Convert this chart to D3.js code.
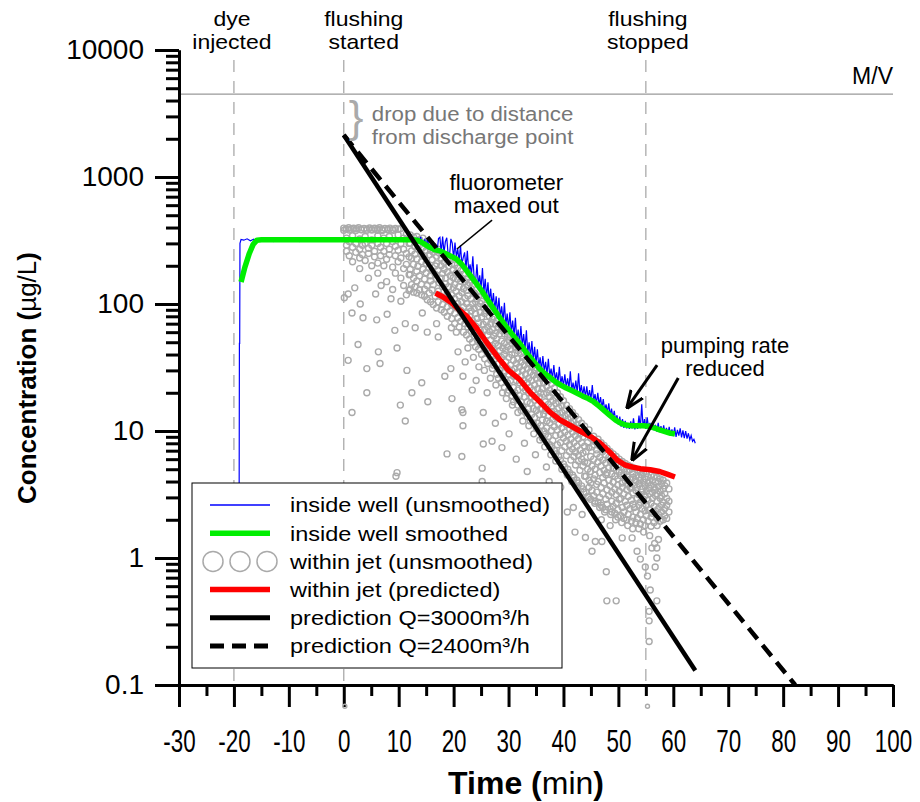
<!DOCTYPE html>
<html>
<head>
<meta charset="utf-8">
<script src="https://cdn.jsdelivr.net/npm/d3@7"></script>
<style>
body { margin: 0; background: #fff; }
text { font-family: "Liberation Sans", Arial, sans-serif; }
</style>
</head>
<body>
<div id="chart"></div>
<script>
// ---------------------------//
//       DATA                 //
// ---------------------------//

// axis ticks
var xTicks = [-30, -20, -10, 0, 10, 20, 30, 40, 50, 60, 70, 80, 90, 100];
var xMinorTicks = [-25, -15, -5, 5, 15, 25, 35, 45, 55, 65, 75, 85, 95];
var yTicks = [0.1, 1, 10, 100, 1000, 10000];
var yTickLabels = ["0.1", "1", "10", "100", "1000", "10000"];

// event markers (min)
var eventTimes = [-20, 0, 55];
var eventLabels = [["dye", "injected"], ["flushing", "started"], ["flushing", "stopped"]];
var massOverVolume = 4500;

// inside well, unsmoothed: injection step and plateau [time, conc]
var wellStart = [
  [-19.1,0.15],[-19.0,49],[-18.95,49],[-18.9,300],[-18.7,322],[-18.2,318],[-17.6,326],[-17.0,315],[-16.4,324],[-15.8,312],
  [-15.2,320],[-14.6,328],[-14.0,316],[-13.4,322],[-12.8,310],[-12.2,325],[-11.6,318],[-11.0,321],[-10.4,313],[-9.8,327],
  [-9.2,317],[-8.6,323],[-8.0,311],[-7.4,326],[-6.8,319],[-6.2,322],[-5.6,314],[-5.0,328],[-4.4,316],[-3.8,324],
  [-3.2,312],[-2.6,325],[-2.0,318],[-1.4,322],[-0.8,315],[-0.2,327],[0.4,317],[1.0,323],[1.6,313],[2.2,326],
  [2.8,318],[3.4,321],[4.0,314],[4.6,327],[5.2,317],[5.8,324],[6.4,312],[7.0,326],[7.6,319],[8.2,322],
  [8.8,315],[9.4,328],[10.0,316],[10.6,324],[11.2,318],[11.8,326]
];
// inside well, unsmoothed: decay, sampled every 0.25 min from t=12
var wellDecayStart = 12, wellDecayStep = 0.25;
var wellDecay = [
  318, 322, 330, 312, 326, 304, 333, 300,
  338, 296, 302, 320, 284, 331, 276, 290,
  268, 312, 266, 289, 262, 328, 335, 255,
  340, 252, 310, 332, 246, 238, 326, 301,
  228, 305, 236, 272, 214, 290, 205, 232,
  255, 190, 262, 181, 205, 170, 238, 156,
  150, 205, 142, 168, 133, 192, 122, 158,
  113, 148, 104, 132, 97, 122, 90, 115,
  84, 112, 79, 96, 73, 102, 68, 84,
  64, 86, 60, 74, 56, 78, 52, 63,
  49, 67, 47, 58, 44, 62, 41, 50,
  38, 51, 36, 46, 34, 44, 32, 38,
  30, 39, 29.5, 35, 28, 37, 27, 31,
  25.8, 33, 25, 29, 24, 32, 23.2, 27,
  22.6, 28, 22.2, 26, 21.6, 29.5, 21, 24,
  20.5, 25, 20, 28.5, 19.6, 23, 19, 22.5,
  18.5, 22.5, 18.1, 21, 17.8, 23, 17.2, 19.5,
  16.4, 20, 15.9, 18.5, 15.2, 17.8, 14.5, 16.2,
  13.9, 16.5, 13.2, 15, 12.7, 14.4, 12.1, 13.3,
  11.2, 13, 10.8, 12.4, 10.6, 12, 10.5, 11.6,
  10.4, 11.9, 10.5, 12.6, 10.3, 11.5, 10.4, 13.2,
  10.5, 16.2, 10.6, 12.4, 10.4, 12.8, 10.5, 11.6,
  10.3, 11.7, 10.1, 11.2, 9.9, 11.6, 9.8, 10.9,
  9.7, 11.1, 9.5, 10.6, 9.4, 10.8, 9.2, 10.3,
  9.1, 10.7, 9.0, 10.2, 9.2, 10.5, 8.9, 10.1,
  8.8, 10.0, 8.7, 9.6, 8.5, 9.2, 8.3, 8.6,
  8.0
];

// inside well, smoothed
var wellSmooth = [
  [-18.7,149],[-18.0,195],[-17.2,250],[-16.5,295],[-15.8,318],[-15.0,320],[12.5,320],[13.5,316],[14.5,300],[15.5,282],
  [16.5,268],[17.5,262],[18.5,250],[19.5,238],[20.5,226],[21.5,205],[22.5,180],[23.5,158],[24.5,138],[25.5,120],
  [26.5,103],[27.5,89],[28.5,77],[29.5,67],[30.5,59],[31.5,52],[32.5,46],[33.5,40],[34.5,35.5],[35.5,31.5],
  [36.5,28.5],[37.5,26.5],[38.5,24.5],[39.5,23],[40.5,21.8],[41.5,20.8],[42.5,19.8],[43.5,18.8],[44.5,18],[45.5,17],
  [46.5,15.7],[47.5,14.4],[48.5,13.2],[49.5,12.2],[50.5,11.5],[51.5,11.1],[52.5,11],[53.5,11],[54.5,11],[55.5,10.9],
  [56.5,10.6],[57.5,10.2],[58.5,9.9],[59.5,9.6],[60.3,9.5]
];

// within jet, predicted
var jetPredicted = [
  [16.7,122],[18,114],[19.4,104],[21,90],[22.4,80],[24,66],[26,50],[28.5,36],[30,30],[32,25.5],
  [34,20],[35.7,17],[37.6,14],[39.4,12.2],[41,11.2],[43,10],[45,9],[46.7,8],[48.3,6.9],[49.8,5.9],
  [51.2,5.4],[52.6,5.2],[54,5.05],[55.8,4.95],[57.5,4.8],[59,4.55],[60.3,4.34]
];

// predictions
var predQ3000 = [[0,2140],[64,0.13]];
var predQ2400 = [[0,2140],[82.2,0.1]];

// within jet, unsmoothed: fluorometer cap band and plateau scatter [time, conc...]
var jetEarly = [
  [0.0,396,380],[0.4,390],[0.5,330,290,260],[0.9,398],[1.0,310,240,382],[1.3,388],[1.6,345,280,215],[1.8,395],
  [2.2,300,255,379],[2.3,391],[2.7,399],[2.9,325,270,230,190],[3.2,386,384],[3.4,290,245],[3.7,394],[3.9,340,300,220],
  [4.2,389,380],[4.5,275,250,160],[4.7,397],[5.1,320,290,200,387,383],[5.6,260,235,395],[6.1,390,381],
  [6.2,345,300,210,175],[6.5,398],[6.7,280,240],[7.0,386,379],[7.3,330,260,200],[7.5,394],[7.8,300,225,150],
  [8.0,389,384],[8.3,340,270,245],[8.4,396],[8.9,310,195,130,387],[9.0,380],[9.4,285,240,175,393],[9.9,350,265,215,388],
  [10.3,392],[10.4,300,230,160,105],[10.9,330,270,190,140],[11.4,355,250,205,118],[11.9,300,235,170,128]
];
// within jet, unsmoothed: main decaying cloud [time, conc...]
var jetCloud = [
  [12.1,350,301,188,171,131],[12.35,262,229,142],[12.7,336,205,160,124],[12.95,313,284,247,136],
  [13.3,340,226,181,152,122],[13.5,270,198],[13.8,321,292,166,129],[14.15,247,215,143,118],
  [14.4,330,279,188],[14.7,303,238,157,131,115],[15.0,263,209,176],[15.2,310,286,140,108],
  [15.55,244,191,122],[15.8,297,265,167,152,104],[16.1,223,183,129],[16.3,285,255,142,99],
  [16.65,268,199,171,115],[16.9,238,208,158,93],[17.2,270,185,126,104],[17.4,252,147,118],
  [17.75,229,200,160,90],[18.0,248,174,137,99],[18.3,212,188,113,86],[18.55,240,160,144],
  [18.85,221,178,121,95,80],[19.1,199,137,106],[19.4,228,167,150,88],[19.65,207,118,99,77],
  [19.95,186,161,134],[20.2,203,143,110,84,70],[20.45,175,126,95],[20.75,192,157,101,78],
  [21.0,170,137,116,66],[21.3,183,151,89,73],[21.5,160,123,104],[21.8,172,132,95,80,60],
  [22.05,150,111,70],[22.35,156,128,101,85,57],[22.6,140,116,66],[22.9,147,94,80,53],
  [23.2,132,110,88,61],[23.45,140,100,74,50],[23.75,122,92,56],[24.0,118,104,84,67,46],
  [24.3,110,77,52],[24.55,114,95,71,44],[24.85,101,86,62,48],[25.1,105,79,57,40],
  [25.4,94,69,52],[25.65,98,84,63,45,37],[25.95,88,72,49],[26.2,91,66,57,41,34],
  [26.5,80,61,45],[26.75,86,70,52,36],[27.05,76,63,47,31],[27.3,79,56,42,33],
  [27.6,70,59,49,37],[27.85,74,53,39,28],[28.15,66,47,34,26],[28.4,69,58,43,30],
  [28.7,62,51,38,24],[28.95,64,45,33,27],[29.25,58,49,40,29,22],[29.5,61,43,35],
  [29.8,55,46,31,24,20],[30.05,52,38,28,21],[30.35,55,44,33,25],[30.6,49,40,30,19],
  [30.9,51,36,27,22,17],[31.15,46,41,31,20],[31.45,48,34,25,18],[31.7,43,37,29,21,16],
  [32.0,45,32,24,19],[32.3,41,35,27,17,14.5],[32.55,38,30,22,15.5],[32.85,42,33,25,18.5],
  [33.1,36,28,21,14],[33.4,39,31,24,17,13],[33.65,34,26,20,15],[33.95,36,29,22,16.5,12],
  [34.2,32,25,18.5,13.5],[34.5,34,27.5,21,15,11.5],[34.75,30,23,17.5,12.8],[35.05,31.5,26,19,14.5,10.6],
  [35.3,28,21.5,16,11.5],[35.6,29.5,24,18.5,13.5,10],[35.85,26,20,15,11],
  [36.15,27,21.5,15,12.2,8.8],[36.4,24,19.5,13.6,10],[36.7,26.5,17,14.5,9.4],[36.95,22.5,20,12,10.6,8.2],
  [37.25,25,16.2,13.2,9],[37.5,21,18.6,11.6,7.8],[37.8,23.5,15.5,14.2,10.1,7.4],[38.05,19.8,17.4,12.4,8.4],
  [38.35,21.8,14.2,10.8,7.0],[38.6,18.2,16.5,12.9,9.2,6.6],[38.9,20,13.6,10.2,7.8],[39.15,17,15.2,11.3,6.3],
  [39.45,18.6,12.8,9.4,8.1,5.9],[39.7,15.8,14,10.6,7.0],[40.0,17.3,11.8,8.8,5.5],[40.25,14.6,13.1,9.8,7.5,5.2],
  [40.55,16,11.2,8.3,6.4],[40.8,13.6,12.4,9.3,5.0],[41.1,15,10.4,7.8,6.9,4.7],[41.35,12.8,11.5,8.6,5.9],
  [41.65,14,9.8,7.2,4.5],[41.9,12,10.8,8.1,6.3,4.3],[42.2,13.1,9.2,6.8,5.4],[42.45,11.2,10.1,7.6,4.1],
  [42.75,12.3,8.7,6.4,5.8,3.9],[43.0,10.6,9.5,7.1,4.9],[43.3,11.5,8.1,6.0,3.7],[43.55,10,9,6.7,5.3,3.5],
  [43.85,10.9,7.6,5.7,4.4],
  [44.1,9.6,6.9,4.4,3.3],[44.4,8.1,5.6,5.0,3.05],[44.65,10.2,7.4,4.1,3.6],[44.95,8.8,6.3,4.8,3.9,2.9],
  [45.2,7.5,5.3,3.4],[45.5,9.1,7.8,6.0,4.2,3.1],[45.75,8.3,5.0,4.5,2.8],[46.05,7.1,6.6,3.8,3.3],
  [46.3,8.6,5.7,4.0,2.75],[46.6,7.6,6.2,4.7,3.0],[46.85,8.1,5.3,3.6,2.6],[47.15,6.9,5.9,4.3,3.2,2.5],
  [47.4,7.7,4.9,3.9],[47.7,6.5,5.6,4.55,2.9,2.4],[47.95,7.3,4.7,3.45,2.65],[48.25,6.2,5.15,4.1,3.1],
  [48.5,6.9,5.8,3.7,2.45],[48.8,5.6,4.6,3.3,2.8,2.3],[49.05,6.6,5.1,3.95,2.55],[49.35,5.9,4.4,3.5,2.25],
  [49.6,6.3,4.9,3.15,2.7],[49.9,5.4,4.2,3.75,2.4,2.1],[50.15,6.0,4.75,3.35,2.9],[50.45,5.2,4.45,2.95,2.15],
  [50.7,5.75,3.9,3.6,2.5],[51.0,5.0,4.6,3.2,2.3,2.05],[51.25,5.55,4.05,2.8],[51.55,4.8,4.35,3.45,2.6,2.0],
  [51.8,5.35,3.8,3.05,2.2],[52.1,4.95,4.15,3.6,2.45],[52.35,5.2,3.55,2.85,1.95],[52.65,4.6,4.3,3.25,2.65,2.1],
  [52.9,5.1,3.75,2.5],[53.2,4.45,4.05,3.4,2.3,1.9],[53.45,4.95,3.6,2.95,2.05],[53.75,4.3,3.85,3.15,2.6],
  [54.0,4.8,4.1,2.75,2.2,1.85],[54.3,4.5,3.5,3.3,2.45],[54.55,4.7,3.95,2.9,2.0],[54.85,4.2,3.7,3.1,2.35,1.8],
  [55.1,4.6,3.35,2.6,2.15],[55.4,4.35,3.9,2.85,1.95],[55.65,4.05,3.55,3.2,2.4],[55.95,4.5,3.75,2.7,2.1,1.78],
  [56.2,4.1,3.3,2.95,2.25],[56.5,4.4,3.6,2.55,1.9],[56.75,3.95,3.45,3.1,2.35],[57.05,4.3,3.2,2.8,2.05,1.8],
  [57.3,4.0,3.65,2.45,2.2],[57.6,4.2,3.35,2.95,1.95],[57.85,3.85,3.1,2.6,2.3],[58.15,4.1,3.5,2.75,2.0],
  [58.45,3.7,3.2,2.45,2.15],[58.8,3.9,2.95,2.6,2.05],[59.2,3.5,2.8,2.3]
];
// within jet, unsmoothed: scattered low readings [time, conc]
var jetScatter = [
  [0.1,112],[0.8,120],[0.8,36],[1.5,85],[1.5,14],[2.0,134],[2.6,48],[3.0,100],[3.5,78],[4.2,31],
  [4.2,20],[5.8,120],[6.3,42],[6.0,75],[6.6,34],[6.8,140],[7.9,83],[8.6,110],[9.3,62],[9.7,45],
  [9.7,4.7],[9.5,4.4],[10.3,16],[11.2,70],[11.2,12],[11.5,30],[12.4,20],[13.0,65],[14.2,24],[14.3,85],
  [15.3,17],[15.2,60],[16.9,70],[17.2,55],[18.4,27],[18.8,6.6],[19.5,31],[19.7,18],[19.6,65],[20.5,60],
  [20.8,42],[21.5,14.7],[21.7,14],[21.7,11],[21.5,6.3],[21.7,27],[22.6,45],[22.1,35],[23.4,21],[23.6,38],
  [24.6,32],[24.1,25],[25.4,14],[25.4,7.9],[25.2,5.1],[25.2,4.0],[25.6,30],[26.7,26],[26.1,20],[27.6,11.5],
  [27.0,8.3],[27.7,23],[28.8,7.4],[28.9,20],[29.6,18],[29.1,13],[30.7,16],[30.1,9.5],[31.7,14],[31.4,6],
  [32.6,12],[32.9,8],[33.7,11],[33.4,4.8],[34.6,9.5],[34.9,6.5],[35.7,8.5],[35.5,3.5],[36.6,7.5],[36.9,5.2],
  [37.7,6.5],[37.4,4],[38.6,5.8],[38.9,3],[39.7,5],[39.5,3.6],[40.7,4.5],[40.7,2.3],[41.8,2.5],[41.5,4],
  [42.1,1.6],[42.6,3.6],[43.7,3.3],[43.4,2.2],[44.0,1.45],[44.6,3],[45.2,1.13],[45.8,1.35],[45.7,2.7],[46.6,2.5],
  [46.9,2],[47.0,1.35],[47.8,0.78],[47.9,0.46],[47.5,2.3],[48.5,1.8],[48.6,2.2],[49.6,0.46],[49.5,2],[50.7,1.44],
  [50.6,1.9],[51.7,1.8],[52.5,1.44],[52.6,1.7],[53.4,1.13],[53.7,1.7],[54.0,0.98],[54.9,0.85],[54.6,1.6],[55.3,0.72],
  [55.8,0.56],[55.6,0.38],[55.6,0.32],[55.6,0.22],[55.7,1.5],[56.7,0.85],[56.6,1.3],[56.1,1.2],[57.0,0.46],[57.0,1.0],
  [57.3,1.4],[57.0,1.2],[0.2,0.068],[55.3,0.068]
];

var legendLabels = [
  "inside well (unsmoothed)",
  "inside well smoothed",
  "within jet (unsmoothed)",
  "within jet (predicted)",
  "prediction Q=3000m\u00b3/h",
  "prediction Q=2400m\u00b3/h"
];

// ---------------------------//
//       PREPARE              //
// ---------------------------//
var wellRaw = wellStart.concat(wellDecay.map(function(c, i) {
  return [wellDecayStart + i * wellDecayStep, c];
}));

var jetRaw = [];
jetEarly.concat(jetCloud).forEach(function(col) {
  col.slice(1).forEach(function(c) { jetRaw.push([col[0], c]); });
});
jetRaw = jetRaw.concat(jetScatter);

// ---------------------------//
//       SETUP                //
// ---------------------------//
var W = 920, H = 802;
var svg = d3.select("#chart").append("svg")
  .attr("width", W)
  .attr("height", H);

var x = d3.scaleLinear().domain([-30, 100]).range([179, 893]);
var y = d3.scaleLog().domain([0.1, 10000]).range([685, 50]);

var grey = "#aaaaaa";

// event markers
svg.append("g").selectAll("line")
  .data(eventTimes)
  .enter().append("line")
    .attr("x1", function(d) { return x(d); })
    .attr("x2", function(d) { return x(d); })
    .attr("y1", 60)
    .attr("y2", y(0.1))
    .attr("stroke", grey)
    .attr("stroke-width", 1.3)
    .attr("stroke-dasharray", "12,9");

// M/V line
svg.append("line")
  .attr("x1", x(-30)).attr("x2", x(100))
  .attr("y1", y(massOverVolume)).attr("y2", y(massOverVolume))
  .attr("stroke", "#999").attr("stroke-width", 1.2);

svg.append("text")
  .attr("x", x(100)).attr("y", y(massOverVolume) - 10)
  .attr("text-anchor", "end")
  .style("font-size", "23px")
  .text("M/V");

// event labels
var labelShift = [-2, 20, 2];
eventLabels.forEach(function(lbl, i) {
  lbl.forEach(function(s, j) {
    svg.append("text")
      .attr("transform", "translate(" + (x(eventTimes[i]) + labelShift[i]) + "," + (26 + j * 23) + ") scale(1.15,1)")
      .attr("text-anchor", "middle")
      .style("font-size", "20px")
      .text(s);
  });
});

// ---------------------------//
//       AXES                 //
// ---------------------------//
var yMinor = [];
yTicks.slice(0, -1).forEach(function(d) {
  for (var k = 2; k < 10; k++) yMinor.push(d * k);
});

function styleAxis(g) {
  g.select(".domain").attr("stroke-width", 3);
  g.selectAll(".tick line").attr("stroke-width", 3);
}

svg.append("g")
  .attr("transform", "translate(0," + y(0.1) + ")")
  .call(d3.axisBottom(x).tickValues(xMinorTicks).tickSize(11).tickSizeOuter(0).tickFormat(""))
  .call(styleAxis);

var xAxis = svg.append("g")
  .attr("transform", "translate(0," + y(0.1) + ")")
  .call(d3.axisBottom(x).tickValues(xTicks).tickSize(22).tickSizeOuter(0)
    .tickFormat(function(d) { return String(d); }))
  .call(styleAxis);
xAxis.selectAll("text")
  .attr("y", 44)
  .attr("transform", "scale(0.7,1)")
  .style("font-size", "32px")
  .attr("fill", "#000");

svg.append("g")
  .attr("transform", "translate(" + x(-30) + ",0)")
  .call(d3.axisLeft(y).tickValues(yMinor).tickSize(13).tickSizeOuter(0).tickFormat(""))
  .call(styleAxis);

var yAxis = svg.append("g")
  .attr("transform", "translate(" + x(-30) + ",0)")
  .call(d3.axisLeft(y).tickValues(yTicks).tickSize(24).tickSizeOuter(0)
    .tickFormat(function(d, i) { return yTickLabels[i]; }))
  .call(styleAxis);
yAxis.selectAll("text")
  .attr("x", -35)
  .style("font-size", "28px")
  .attr("fill", "#000");

// axis titles
var xTitle = svg.append("text")
  .attr("x", 526).attr("y", 794)
  .attr("text-anchor", "middle")
  .style("font-size", "32px");
xTitle.append("tspan").style("font-weight", "bold").text("Time (");
xTitle.append("tspan").text("min");
xTitle.append("tspan").style("font-weight", "bold").text(")");

var yTitle = svg.append("text")
  .attr("transform", "translate(36,378) rotate(-90)")
  .attr("text-anchor", "middle")
  .style("font-size", "26px");
yTitle.append("tspan").style("font-weight", "bold").text("Concentration (");
yTitle.append("tspan").text("\u00b5g/L");
yTitle.append("tspan").style("font-weight", "bold").text(")");

// ---------------------------//
//       DATA MARKS           //
// ---------------------------//
var line = d3.line()
  .x(function(d) { return x(d[0]); })
  .y(function(d) { return y(d[1]); });

svg.append("g").selectAll("circle")
  .data(jetRaw)
  .enter().append("circle")
    .attr("cx", function(d) { return x(d[0]); })
    .attr("cy", function(d) { return y(d[1]); })
    .attr("r", function(d) { return d[1] < 0.1 ? 2 : 3; })
    .attr("fill", "none")
    .attr("stroke", grey)
    .attr("stroke-width", 1.4);

svg.append("path").datum(wellRaw)
  .attr("d", line).attr("fill", "none")
  .attr("stroke", "#0000ff").attr("stroke-width", 1.2);

svg.append("path").datum(wellSmooth)
  .attr("d", line).attr("fill", "none")
  .attr("stroke", "#00ee00").attr("stroke-width", 5.5)
  .attr("stroke-linejoin", "round");

svg.append("path").datum(jetPredicted)
  .attr("d", line).attr("fill", "none")
  .attr("stroke", "#ff0000").attr("stroke-width", 5.5)
  .attr("stroke-linejoin", "round");

svg.append("path").datum(predQ3000)
  .attr("d", line).attr("fill", "none")
  .attr("stroke", "#000").attr("stroke-width", 4.5);

svg.append("path").datum(predQ2400)
  .attr("d", line).attr("fill", "none")
  .attr("stroke", "#000").attr("stroke-width", 4.5)
  .attr("stroke-dasharray", "14,8");

// ---------------------------//
//       ANNOTATIONS          //
// ---------------------------//
svg.append("defs").append("marker")
  .attr("id", "arrow")
  .attr("viewBox", "0 0 10 10")
  .attr("refX", 9.5).attr("refY", 5)
  .attr("markerUnits", "userSpaceOnUse")
  .attr("markerWidth", 18).attr("markerHeight", 18)
  .attr("orient", "auto")
  .append("path")
    .attr("d", "M0,1 L10,5 L0,9")
    .attr("fill", "none")
    .attr("stroke", "#000")
    .attr("stroke-width", 1.7);

svg.append("text")
  .attr("x", x(0) + 5).attr("y", 132)
  .style("font-size", "44px")
  .attr("fill", "#aaa")
  .text("}");

var dropNote = ["drop due to distance", "from discharge point"];
dropNote.forEach(function(s, j) {
  svg.append("text")
    .attr("transform", "translate(" + (x(0) + 28) + "," + (121 + j * 23) + ") scale(1.06,1)")
    .style("font-size", "21px").attr("fill", "#777")
    .text(s);
});

svg.append("text").attr("x", x(29.6)).attr("y", 190)
  .attr("text-anchor", "middle").style("font-size", "22.5px")
  .text("fluorometer");
svg.append("text").attr("x", x(29.6)).attr("y", 213)
  .attr("text-anchor", "middle").style("font-size", "22.5px")
  .text("maxed out");
svg.append("line")
  .attr("x1", x(27.0)).attr("y1", y(458))
  .attr("x2", x(20.6)).attr("y2", y(271))
  .attr("stroke", "#000").attr("stroke-width", 1.5);

svg.append("text").attr("x", x(69.4)).attr("y", 353)
  .attr("text-anchor", "middle").style("font-size", "22px")
  .text("pumping rate");
svg.append("text").attr("x", x(69.4)).attr("y", 376)
  .attr("text-anchor", "middle").style("font-size", "22px")
  .text("reduced");

var arrows = [[[57.05, 33], [51.6, 15.2]], [[60.9, 26.1], [52.5, 5.9]]];
svg.append("g").selectAll("line")
  .data(arrows)
  .enter().append("line")
    .attr("x1", function(d) { return x(d[0][0]); })
    .attr("y1", function(d) { return y(d[0][1]); })
    .attr("x2", function(d) { return x(d[1][0]); })
    .attr("y2", function(d) { return y(d[1][1]); })
    .attr("stroke", "#000").attr("stroke-width", 3)
    .attr("marker-end", "url(#arrow)");

// ---------------------------//
//       LEGEND               //
// ---------------------------//
var lg = svg.append("g").attr("transform", "translate(192,483)");
lg.append("rect")
  .attr("width", 370).attr("height", 185)
  .attr("fill", "#fff").attr("stroke", "#000").attr("stroke-width", 1);

var rowY = function(i) { return 22 + i * 28.2; };
var sampleStyles = [
  {color: "#0000ff", w: 1.3, dash: null},
  {color: "#00ee00", w: 5.5, dash: null},
  null,
  {color: "#ff0000", w: 5.5, dash: null},
  {color: "#000", w: 5, dash: null},
  {color: "#000", w: 5, dash: "14,8"}
];
sampleStyles.forEach(function(s, i) {
  if (s) {
    lg.append("line")
      .attr("x1", 18).attr("x2", 78)
      .attr("y1", rowY(i)).attr("y2", rowY(i))
      .attr("stroke", s.color).attr("stroke-width", s.w)
      .attr("stroke-dasharray", s.dash);
  } else {
    [21, 48, 75].forEach(function(cx) {
      lg.append("circle")
        .attr("cx", cx).attr("cy", rowY(i)).attr("r", 10)
        .attr("fill", "none").attr("stroke", grey).attr("stroke-width", 1.5);
    });
  }
});
lg.selectAll("text.lbl")
  .data(legendLabels)
  .enter().append("text")
    .attr("class", "lbl")
    .attr("transform", function(d, i) { return "translate(98," + rowY(i) + ") scale(1.12,1)"; })
    .attr("dy", "0.35em")
    .style("font-size", "21px")
    .text(function(d) { return d; });
</script>
</body>
</html>
